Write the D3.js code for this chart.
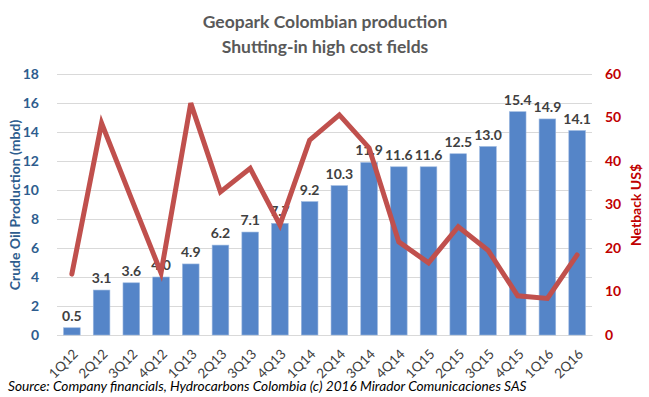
<!DOCTYPE html>
<html>
<head>
<meta charset="utf-8">
<script src="https://cdn.jsdelivr.net/npm/d3@7"></script>
<style>
  body { margin: 0; background: #fff; }
  svg { font-family: Lato, "Open Sans", sans-serif; }
</style>
</head>
<body>
<div id="chart"></div>
<script>
const FRAME_WIDTH = 649;
const FRAME_HEIGHT = 397;
const MARGINS = {left: 57, right: 57, top: 74, bottom: 62};
const VIS_WIDTH = FRAME_WIDTH - MARGINS.left - MARGINS.right;
const VIS_HEIGHT = FRAME_HEIGHT - MARGINS.top - MARGINS.bottom;

// data
const quarters = ["1Q12","2Q12","3Q12","4Q12","1Q13","2Q13","3Q13","4Q13","1Q14",
                  "2Q14","3Q14","4Q14","1Q15","2Q15","3Q15","4Q15","1Q16","2Q16"];
const production = [0.5, 3.1, 3.6, 4.0, 4.9, 6.2, 7.1, 7.7, 9.2, 10.3, 11.9, 11.6, 11.6, 12.5, 13.0, 15.4, 14.9, 14.1];
const netback = [14, 48.7, 31.4, 14.3, 53.3, 32.9, 38.3, 25.3, 44.8, 50.6, 43, 21.4, 16.6, 24.9, 19.5, 9.0, 8.4, 18.4];
const leftTicks = [0, 2, 4, 6, 8, 10, 12, 14, 16, 18];
const rightTicks = [0, 10, 20, 30, 40, 50, 60];

const FRAME = d3.select("#chart")
  .append("svg")
    .attr("width", FRAME_WIDTH)
    .attr("height", FRAME_HEIGHT);

// title
FRAME.append("text")
  .attr("x", 325).attr("y", 28)
  .attr("text-anchor", "middle")
  .attr("font-size", "17.5px").attr("font-weight", "bold")
  .attr("fill", "#595959")
  .text("Geopark Colombian  production");
FRAME.append("text")
  .attr("x", 325).attr("y", 53)
  .attr("text-anchor", "middle")
  .attr("font-size", "17.5px").attr("font-weight", "bold")
  .attr("fill", "#595959")
  .text("Shutting-in high cost fields");

const X_SCALE = d3.scaleBand()
  .domain(quarters)
  .range([0, VIS_WIDTH])
  .paddingInner(0.44)
  .paddingOuter(0.22);

const Y_LEFT = d3.scaleLinear().domain([0, 18]).range([VIS_HEIGHT, 0]);
const Y_RIGHT = d3.scaleLinear().domain([0, 60]).range([VIS_HEIGHT, 0]);

const G = FRAME.append("g")
  .attr("transform", "translate(" + MARGINS.left + "," + MARGINS.top + ")");

// gridlines
G.append("g")
  .selectAll("line")
  .data(leftTicks)
  .enter().append("line")
    .attr("x1", 0).attr("x2", VIS_WIDTH)
    .attr("y1", d => Y_LEFT(d) + 0.5).attr("y2", d => Y_LEFT(d) + 0.5)
    .attr("stroke", "#d9d9d9").attr("stroke-width", 1);

// left axis
const leftAxis = G.append("g")
  .call(d3.axisLeft(Y_LEFT).tickValues(leftTicks).tickSize(0).tickPadding(18));
leftAxis.select(".domain").remove();
leftAxis.selectAll("text")
  .attr("font-size", "14px").attr("font-weight", "bold")
  .attr("fill", "#2e5d8e").attr("font-family", "Lato, sans-serif");

// right axis
const rightAxis = G.append("g")
  .attr("transform", "translate(" + VIS_WIDTH + ",0)")
  .call(d3.axisRight(Y_RIGHT).tickValues(rightTicks).tickSize(0).tickPadding(13));
rightAxis.select(".domain").remove();
rightAxis.selectAll("text")
  .attr("font-size", "14px").attr("font-weight", "bold")
  .attr("fill", "#c00000").attr("font-family", "Lato, sans-serif");

// x axis labels rotated
const xAxis = G.append("g")
  .attr("transform", "translate(0," + VIS_HEIGHT + ")")
  .call(d3.axisBottom(X_SCALE).tickSize(0));
xAxis.select(".domain").attr("stroke", "#d9d9d9");
xAxis.selectAll("text")
  .attr("font-size", "13.5px")
  .attr("fill", "#404040")
  .attr("font-family", "Lato, sans-serif")
  .attr("text-anchor", "end")
  .attr("x", 0).attr("y", 0).attr("dy", 0)
  .attr("transform", "translate(7,20) rotate(-45)");

// bars
G.append("g")
  .selectAll("rect")
  .data(production)
  .enter().append("rect")
    .attr("x", (d, i) => X_SCALE(quarters[i]))
    .attr("y", d => Y_LEFT(d))
    .attr("width", X_SCALE.bandwidth())
    .attr("height", d => VIS_HEIGHT - Y_LEFT(d))
    .attr("fill", "#5585c8")
    .attr("stroke", "#9cb8e0")
    .attr("stroke-width", 0.6);

// bar labels
G.append("g")
  .selectAll("text")
  .data(production)
  .enter().append("text")
    .attr("x", (d, i) => X_SCALE(quarters[i]) + X_SCALE.bandwidth() / 2)
    .attr("y", d => Y_LEFT(d) - 7)
    .attr("text-anchor", "middle")
    .attr("font-size", "14px").attr("font-weight", "bold")
    .attr("fill", "#404040")
    .text(d => d.toFixed(1));

// netback line
const line = d3.line()
  .x((d, i) => X_SCALE(quarters[i]) + X_SCALE.bandwidth() / 2)
  .y(d => Y_RIGHT(d));

G.append("path")
  .datum(netback)
  .attr("d", line)
  .attr("fill", "none")
  .attr("stroke", "#c0504d")
  .attr("stroke-width", 5)
  .attr("stroke-linejoin", "miter")
  .attr("stroke-linecap", "round");

// axis titles
FRAME.append("text")
  .attr("transform", "translate(20,205) rotate(-90)")
  .attr("text-anchor", "middle")
  .attr("font-size", "14px").attr("font-weight", "bold")
  .attr("fill", "#2e5d8e")
  .text("Crude Oil Production (mbd)");

FRAME.append("text")
  .attr("transform", "translate(641,205) rotate(-90)")
  .attr("text-anchor", "middle")
  .attr("font-size", "14px").attr("font-weight", "bold")
  .attr("fill", "#c00000")
  .text("Netback US$");

// source
FRAME.append("text")
  .attr("x", 8).attr("y", 391)
  .attr("font-size", "13.7px").attr("font-style", "italic")
  .attr("fill", "#000")
  .text("Source: Company financials, Hydrocarbons Colombia (c) 2016 Mirador Comunicaciones SAS");
</script>
</body>
</html>
